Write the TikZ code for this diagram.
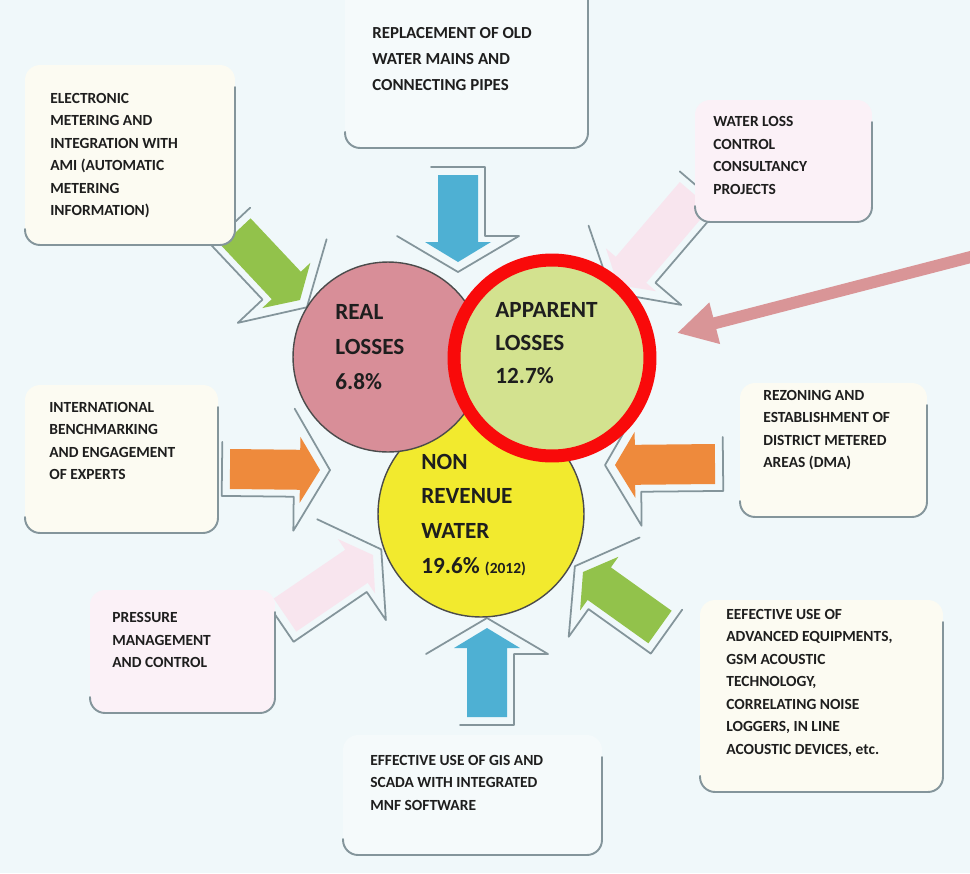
\documentclass[tikz,border=0pt]{standalone}
\usepackage{fontspec}
\setmainfont{Carlito}
\usetikzlibrary{calc,positioning,arrows.meta}
\definecolor{PageBlue}{HTML}{F0F8FA}
\definecolor{BoxCream}{HTML}{FCFBF2}
\definecolor{BoxPink}{HTML}{FBF1F7}
\definecolor{BoxIce}{HTML}{F5FAFB}
\definecolor{ShadowGray}{HTML}{84959B}
\definecolor{ArrowBlue}{HTML}{4EB0D3}
\definecolor{ArrowGreen}{HTML}{92C24B}
\definecolor{ArrowOrange}{HTML}{EE8A3C}
\definecolor{ArrowPink}{HTML}{F8E5EE}
\definecolor{RealPink}{HTML}{D88E98}
\definecolor{ApparentGreen}{HTML}{D3E28F}
\definecolor{NrwYellow}{HTML}{F2EA2E}
\definecolor{RingRed}{HTML}{F90A0A}
\definecolor{PointerPink}{HTML}{D99597}
\definecolor{InkGray}{HTML}{1E1E1E}

% block arrow from #1 to #2, fill #3, shadow on side #4
\newcommand{\blockarrow}[4]{%
  \coordinate (headback) at ($(#2)!0.4cm!(#1)$);
  \coordinate (shadowback) at ($(#2)!0.52cm!(#1)$);
  \coordinate (shadowtail) at ($(#1)!-0.16cm!(#2)$);
  \coordinate (shadowtip) at ($(#2)!-0.2cm!(#1)$);
  \draw[arrowshadow] ($(shadowback)!-1.22cm!#4:(#2)$) -- (shadowtip)
    -- ($(shadowback)!1.22cm!#4:(#2)$) -- ($(shadowback)!0.54cm!#4:(#2)$)
    -- ($(shadowtail)!0.54cm!#4:(#2)$) -- ($(shadowtail)!-0.54cm!#4:(#2)$);
  \fill[#3] ($(#1)!0.4cm!90:(#2)$) -- ($(headback)!0.4cm!90:(#2)$)
    -- ($(headback)!0.66cm!90:(#2)$) -- (#2)
    -- ($(headback)!0.66cm!-90:(#2)$) -- ($(headback)!0.4cm!-90:(#2)$)
    -- ($(#1)!0.4cm!-90:(#2)$) -- cycle;
}
% shadow along the right and bottom of a box
\newcommand{\boxshadow}[1]{%
  \draw[boxshadow] ($(#1.south west)+(0,-16)$) -- (#1.south west)
    -- (#1.south east) -- ($(#1.north east)+(0,22)$);
}

\begin{document}
\begin{tikzpicture}[x=0.02cm,y=-0.02cm,line cap=round,line join=round,
  infobox/.style={rounded corners=0.3cm,inner sep=0pt,outer sep=0pt},
  boxshadow/.style={draw=ShadowGray,line width=1.1pt,rounded corners=0.3cm},
  arrowshadow/.style={draw=ShadowGray,line width=1pt},
  boxtext/.style={font=\bfseries\fontsize{8.8}{12.8}\selectfont,text=InkGray,align=left,anchor=west,inner sep=0pt},
  circletext/.style={font=\bfseries\fontsize{13.2}{19.9}\selectfont,text=InkGray,align=left,anchor=west,inner sep=0pt},
  losscircle/.style={circle,draw=InkGray!80,line width=0.8pt,inner sep=0pt},
  pointer/.style={draw=PointerPink,line width=0.24cm,line cap=butt,-{Triangle[length=0.78cm,width=0.8cm]}}]
  \useasboundingbox (0,0) rectangle (970,873);
  \fill[PageBlue] (0,0) rectangle (970,873);

  % arrows towards the circles
  \coordinate (consultfrom) at (695,195);  \coordinate (consultto) at (618,285);
  \coordinate (pressurefrom) at (285,615); \coordinate (pressureto) at (373,555);
  \coordinate (mainsfrom) at (458,175);    \coordinate (mainsto) at (458,262);
  \coordinate (meteringfrom) at (236,232); \coordinate (meteringto) at (300,300);
  \coordinate (benchfrom) at (230,469);    \coordinate (benchto) at (320,470);
  \coordinate (rezonefrom) at (715,464);   \coordinate (rezoneto) at (615,465);
  \coordinate (acousticfrom) at (660,627); \coordinate (acousticto) at (583,572);
  \coordinate (gisfrom) at (487,717);      \coordinate (gisto) at (487,628);

  \blockarrow{consultfrom}{consultto}{ArrowPink}{90}
  \blockarrow{pressurefrom}{pressureto}{ArrowPink}{-90}
  \blockarrow{mainsfrom}{mainsto}{ArrowBlue}{90}
  \blockarrow{meteringfrom}{meteringto}{ArrowGreen}{-90}
  \blockarrow{benchfrom}{benchto}{ArrowOrange}{-90}
  \blockarrow{rezonefrom}{rezoneto}{ArrowOrange}{90}
  \blockarrow{acousticfrom}{acousticto}{ArrowGreen}{90}
  \blockarrow{gisfrom}{gisto}{ArrowBlue}{-90}

  % boxes
  \node[infobox,fill=BoxCream,minimum width=4.2cm,minimum height=3.6cm] (meteringbox) at (130,155) {};
  \node[infobox,fill=BoxIce,minimum width=4.86cm,minimum height=3.56cm] (mainsbox) at (466.5,59) {};
  \node[infobox,fill=BoxPink,minimum width=3.54cm,minimum height=2.44cm] (consultbox) at (783.5,161) {};
  \node[infobox,fill=BoxCream,minimum width=3.86cm,minimum height=2.96cm] (benchbox) at (121.5,459) {};
  \node[infobox,fill=BoxPink,minimum width=3.7cm,minimum height=2.46cm] (pressurebox) at (182.5,651.5) {};
  \node[infobox,fill=BoxCream,minimum width=3.74cm,minimum height=2.68cm] (rezonebox) at (833.5,450) {};
  \node[infobox,fill=BoxCream,minimum width=4.86cm,minimum height=3.84cm] (acousticbox) at (821.5,696) {};
  \node[infobox,fill=BoxIce,minimum width=5.18cm,minimum height=2.4cm] (gisbox) at (472.5,795) {};
  \boxshadow{meteringbox}
  \boxshadow{mainsbox}
  \boxshadow{consultbox}
  \boxshadow{benchbox}
  \boxshadow{pressurebox}
  \boxshadow{rezonebox}
  \boxshadow{acousticbox}
  \boxshadow{gisbox}

  \node[boxtext] (meteringtext) at (50,155.5) {ELECTRONIC\\METERING AND\\INTEGRATION WITH\\AMI (AUTOMATIC\\METERING\\INFORMATION)};
  \node[boxtext,font=\bfseries\fontsize{9.6}{14.8}\selectfont] (mainstext) at (372,59) {REPLACEMENT OF OLD\\WATER MAINS AND\\CONNECTING PIPES};
  \node[boxtext] (consulttext) at (713,155.5) {WATER LOSS\\CONTROL\\CONSULTANCY\\PROJECTS};
  \node[boxtext] (benchtext) at (49,441) {INTERNATIONAL\\BENCHMARKING\\AND ENGAGEMENT\\OF EXPERTS};
  \node[boxtext] (pressuretext) at (112,640) {PRESSURE\\MANAGEMENT\\AND CONTROL};
  \node[boxtext] (rezonetext) at (763,430) {REZONING AND\\ESTABLISHMENT OF\\DISTRICT METERED\\AREAS (DMA)};
  \node[boxtext] (acoustictext) at (726,682.5) {EEFECTIVE USE OF\\ADVANCED EQUIPMENTS,\\GSM ACOUSTIC\\TECHNOLOGY,\\CORRELATING NOISE\\LOGGERS, IN LINE\\ACOUSTIC DEVICES, etc.};
  \node[boxtext] (gistext) at (370,782.5) {EFFECTIVE USE OF GIS AND\\SCADA WITH INTEGRATED\\MNF SOFTWARE};

  % the three circles
  \node[losscircle,fill=NrwYellow,minimum size=4.12cm] (nrw) at (481,514) {};
  \node[losscircle,fill=RealPink,minimum size=3.8cm] (real) at (388,357) {};
  \node[circle,fill=ApparentGreen,draw=RingRed,line width=0.26cm,minimum size=3.92cm,inner sep=0pt] (apparent) at (552,358) {};

  \node[circletext] (realtext) at (335,347) {REAL\\LOSSES\\6.8\%};
  \node[circletext,font=\bfseries\fontsize{13.2}{18.8}\selectfont] (apparenttext) at (495,343) {APPARENT\\LOSSES\\12.7\%};
  \node[circletext] (nrwtext) at (421,515) {NON\\REVENUE\\WATER\\19.6\% {\fontsize{8.8}{19.9}\selectfont(2012)}};

  % pointer to the apparent losses
  \coordinate (pointerfrom) at (990,252);
  \coordinate (pointerto) at (677,333);
  \draw[pointer] (pointerfrom) -- (pointerto);
\end{tikzpicture}
\end{document}
